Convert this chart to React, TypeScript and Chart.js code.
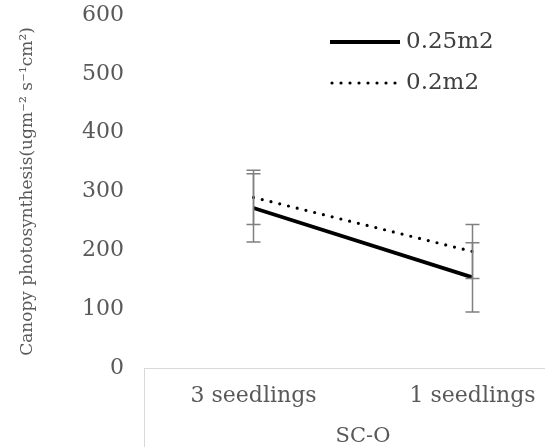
import React, { useEffect, useRef } from 'react';
import { Chart, registerables } from 'chart.js';

Chart.register(...registerables);

const categories = ['3 seedlings', '1 seedlings'];
const seriesLabels = ['0.25m2', '0.2m2'];
const series025 = [272, 154];
const error025 = [58, 59];
const series02 = [290, 198];
const error02 = [46, 46];
const yMin = 0;
const yMax = 600;
const yStep = 100;
const xTitle = 'SC-O';
const yTitle = 'Canopy photosynthesis(ugm\u207B\u00B2 s\u207B\u00B9cm\u00B2)';

const FONT = "'DejaVu Serif', serif";
const GRAY = '#595959';

const errorBarPlugin = {
  id: 'errorBars',
  afterDatasetsDraw(chart: any) {
    const { ctx, scales } = chart;
    const x = scales.x;
    const y = scales.y;
    const errs = [error025, error02];
    ctx.save();
    ctx.strokeStyle = '#808080';
    ctx.lineWidth = 1.5;
    chart.data.datasets.forEach((ds: any, di: number) => {
      ds.data.forEach((v: number, i: number) => {
        const px = x.getPixelForValue(i);
        const t = y.getPixelForValue(v + errs[di][i]);
        const b = y.getPixelForValue(v - errs[di][i]);
        ctx.beginPath();
        ctx.moveTo(px, t);
        ctx.lineTo(px, b);
        ctx.moveTo(px - 7, t);
        ctx.lineTo(px + 7, t);
        ctx.moveTo(px - 7, b);
        ctx.lineTo(px + 7, b);
        ctx.stroke();
      });
    });
    ctx.restore();
  },
};

const frameLinePlugin = {
  id: 'frameLine',
  afterDraw(chart: any) {
    const { ctx, chartArea } = chart;
    ctx.save();
    ctx.strokeStyle = '#d9d9d9';
    ctx.lineWidth = 1;
    ctx.beginPath();
    ctx.moveTo(Math.round(chartArea.left) + 0.5, chartArea.bottom);
    ctx.lineTo(Math.round(chartArea.left) + 0.5, chart.height);
    ctx.stroke();
    ctx.restore();
  },
};

const legendPlugin = {
  id: 'customLegend',
  afterDraw(chart: any) {
    const { ctx } = chart;
    const rows = [42, 83];
    ctx.save();
    chart.data.datasets.forEach((ds: any, i: number) => {
      const yy = rows[i];
      ctx.strokeStyle = ds.borderColor;
      ctx.lineWidth = ds.borderWidth;
      ctx.lineCap = ds.borderCapStyle || 'butt';
      ctx.setLineDash(ds.borderDash || []);
      ctx.beginPath();
      ctx.moveTo(i === 0 ? 330 : 332, yy);
      ctx.lineTo(400, yy);
      ctx.stroke();
      ctx.setLineDash([]);
      ctx.fillStyle = '#404040';
      ctx.font = `23px ${FONT}`;
      ctx.textBaseline = 'middle';
      ctx.textAlign = 'left';
      ctx.fillText(ds.label, 406, yy);
    });
    ctx.restore();
  },
};

export default function App() {
  const ref = useRef<HTMLCanvasElement | null>(null);

  useEffect(() => {
    if (!ref.current) return;
    const chart = new Chart(ref.current, {
      type: 'line',
      data: {
        labels: categories,
        datasets: [
          {
            label: seriesLabels[0],
            data: series025,
            borderColor: '#000000',
            backgroundColor: '#000000',
            borderWidth: 3.8,
            pointRadius: 0,
            tension: 0,
          },
          {
            label: seriesLabels[1],
            data: series02,
            borderColor: '#000000',
            backgroundColor: '#000000',
            borderWidth: 3.2,
            borderDash: [0, 9],
            borderCapStyle: 'round',
            pointRadius: 0,
            tension: 0,
          },
        ],
      },
      options: {
        animation: false,
        responsive: true,
        maintainAspectRatio: false,
        layout: { padding: 0 },
        plugins: {
          legend: { display: false },
          tooltip: { enabled: false },
        },
        scales: {
          x: {
            type: 'category',
            offset: true,
            grid: { display: true, drawOnChartArea: false, drawTicks: false },
            border: { display: true, color: '#d9d9d9', width: 1 },
            ticks: { color: GRAY, font: { family: FONT, size: 22 }, padding: 15, maxRotation: 0 },
            title: {
              display: true,
              text: xTitle,
              color: GRAY,
              font: { family: FONT, size: 21, lineHeight: 1 },
              padding: { top: 0, bottom: 0 },
            },
            afterFit: (s: any) => {
              s.height = 79;
            },
          },
          y: {
            min: yMin,
            max: yMax,
            grid: { display: false },
            border: { display: false },
            ticks: { stepSize: yStep, color: GRAY, font: { family: FONT, size: 22 }, padding: 12 },
            title: {
              display: true,
              text: yTitle,
              color: GRAY,
              font: { family: FONT, size: 17, lineHeight: 1.2 },
              padding: { top: 17, bottom: 0 },
            },
            afterFit: (s: any) => {
              s.width = 144;
              s.paddingTop = 15;
              s.paddingBottom = 0;
            },
          },
        },
      },
      plugins: [errorBarPlugin, frameLinePlugin, legendPlugin],
    });
    return () => chart.destroy();
  }, []);

  return (
    <div
      style={{
        position: 'fixed',
        left: 0,
        top: 0,
        width: 545,
        height: 447,
        overflow: 'hidden',
        background: '#ffffff',
      }}
    >
      <div style={{ position: 'relative', width: 582, height: 447 }}>
        <canvas ref={ref} />
      </div>
    </div>
  );
}
